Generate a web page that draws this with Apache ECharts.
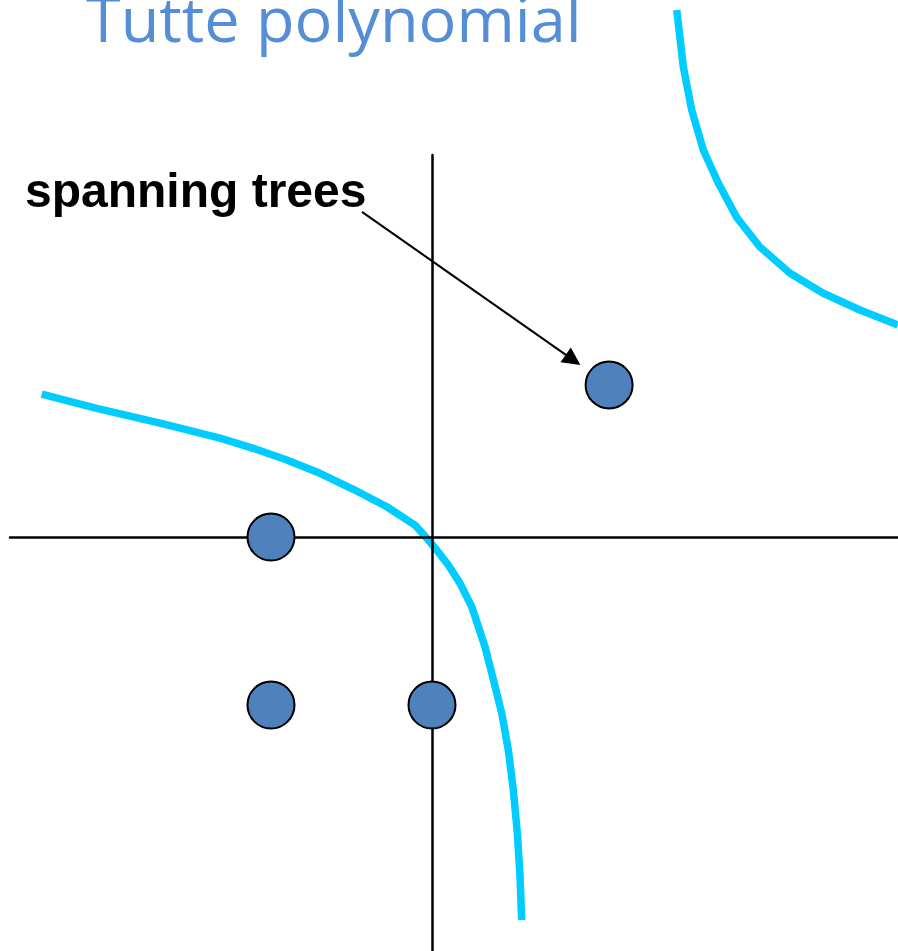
<!DOCTYPE html>
<html>
<head>
<meta charset="utf-8">
<script src="https://cdn.jsdelivr.net/npm/echarts@6/dist/echarts.min.js"></script>
<style>
html,body{margin:0;padding:0;background:#fff;}
#chart{width:898px;height:951px;}
</style>
</head>
<body>
<div id="chart"></div>
<script>
// Axis window (units)
var xRange = [-2.6211, 2.8944];
var yRange = [-2.4643, 2.2738];

// Hyperbola branches
var lowerBranch = [
  [-2.424, 0.851], [-2.083, 0.766], [-1.669, 0.673], [-1.317, 0.588],
  [-1.110, 0.528], [-0.902, 0.458], [-0.696, 0.379], [-0.489, 0.284],
  [-0.281, 0.180], [-0.106, 0.071], [-0.039, 0.000], [0.029, -0.077],
  [0.101, -0.167], [0.174, -0.276], [0.247, -0.415], [0.329, -0.653],
  [0.371, -0.810], [0.433, -1.048], [0.474, -1.268], [0.505, -1.506],
  [0.530, -1.762], [0.547, -2.024], [0.557, -2.280]
];
var upperBranch = [
  [1.520, 3.137], [1.561, 2.799], [1.613, 2.542], [1.685, 2.304],
  [1.778, 2.107], [1.893, 1.902], [2.037, 1.726], [2.224, 1.570],
  [2.430, 1.451], [2.658, 1.351], [2.894, 1.262]
];

// Points
var points = [[-1, 0], [-1, -1], [0, -1], [1.10, 0.905]];

// Annotation
var titleText = 'Tutte polynomial';
var labelText = 'spanning trees';
var arrowCoords = [[-0.435, 1.935], [0.876, 1.054]];

var chart = echarts.init(document.getElementById('chart'), null, {renderer: 'canvas'});
var axisCommon = {
  type: 'value',
  axisTick: {show: false},
  axisLabel: {show: false},
  splitLine: {show: false},
  axisLine: {show: true, onZero: true, lineStyle: {color: '#000', width: 2.5}},
  z: 3
};
chart.setOption({
  backgroundColor: '#ffffff',
  animation: false,
  grid: {left: 10, right: 0, top: 155, bottom: 0, containLabel: false},
  xAxis: Object.assign({}, axisCommon, {min: xRange[0], max: xRange[1]}),
  yAxis: Object.assign({}, axisCommon, {min: yRange[0], max: yRange[1]}),
  graphic: [
    {type: 'text', left: 86, top: -7, z: 10,
      style: {text: titleText, fill: '#558ED5', font: '63px "Open Sans"'}},
    {type: 'text', left: 25, top: 170, z: 10,
      style: {text: labelText, fill: '#000', font: 'bold 48px "Liberation Sans", Arial'}}
  ],
  series: [
    {type: 'line', data: lowerBranch, smooth: false, showSymbol: false, clip: false, z: 1,
      lineStyle: {color: '#00CCFF', width: 7.5, join: 'round'}},
    {type: 'line', data: upperBranch, smooth: false, showSymbol: false, clip: false, z: 1,
      lineStyle: {color: '#00CCFF', width: 7.5, join: 'round'}},
    {type: 'lines', coordinateSystem: 'cartesian2d', z: 4,
      symbol: ['none', 'triangle'], symbolSize: [14, 18],
      lineStyle: {color: '#000', width: 2, opacity: 1},
      data: [{coords: arrowCoords}]},
    {type: 'scatter', data: points, symbol: 'circle', symbolSize: 47, z: 5,
      itemStyle: {color: '#4F81BD', borderColor: '#000', borderWidth: 2, opacity: 1}}
  ]
});
</script>
</body>
</html>
